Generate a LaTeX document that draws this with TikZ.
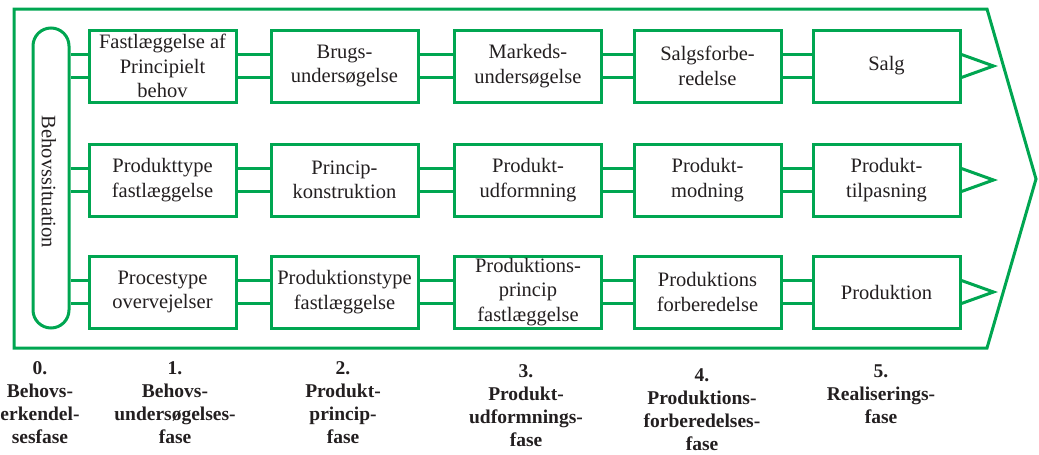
\documentclass[tikz,border=0pt]{standalone}
\usepackage{fontspec}
\setmainfont{Liberation Serif}
\usetikzlibrary{calc}
\definecolor{phasegreen}{RGB}{0,166,81}
\definecolor{ink}{RGB}{35,31,32}
\begin{document}
\begin{tikzpicture}[x=1pt,y=-1pt,
  every node/.style={text=ink},
  stepbox/.style={draw=phasegreen, line width=3pt, minimum width=147pt,
    minimum height=72pt, inner sep=0pt, align=center,
    font=\fontsize{20.5}{24.5}\selectfont},
  link/.style={draw=phasegreen, line width=3pt},
  phase/.style={anchor=north, align=center, inner sep=0pt,
    font=\fontsize{19.5}{23}\selectfont\bfseries}]
\useasboundingbox (0,0) rectangle (1039,455);

% outer arrow frame
\draw[phasegreen, line width=3pt, line join=miter]
  (14,9) -- (987,9) -- (1036,179) -- (987,348) -- (14,348) -- cycle;

% need situation column
\node[draw=phasegreen, line width=3pt, rounded corners=18pt,
  minimum width=36pt, minimum height=300pt, inner sep=0pt] (pill) at (51,178) {};
\node[rotate=-90, inner sep=0pt, font=\fontsize{20.5}{24.5}\selectfont]
  (pilltext) at (49,182) {Behovssituation};

% row 1
\node[stepbox] (r1-1) at (162.5,66) {Fastlæggelse af\\Principielt\\behov};
\node[stepbox] (r1-2) at (344.5,66) {Brugs-\\undersøgelse};
\node[stepbox] (r1-3) at (528,66) {Markeds-\\undersøgelse};
\node[stepbox] (r1-4) at (707.5,66) {Salgsforbe-\\redelse};
\node[stepbox] (r1-5) at (886.5,66) {Salg};
% row 2
\node[stepbox] (r2-1) at (162.5,180) {Produkttype\\fastlæggelse};
\node[stepbox] (r2-2) at (344.5,180) {Princip-\\konstruktion};
\node[stepbox] (r2-3) at (528,180) {Produkt-\\udformning};
\node[stepbox] (r2-4) at (707.5,180) {Produkt-\\modning};
\node[stepbox] (r2-5) at (886.5,180) {Produkt-\\tilpasning};
% row 3
\node[stepbox] (r3-1) at (162.5,292) {Procestype\\overvejelser};
\node[stepbox] (r3-2) at (344.5,292) {Produktionstype\\fastlæggelse};
\node[stepbox] (r3-3) at (528,292) {Produktions-\\princip\\fastlæggelse};
\node[stepbox] (r3-4) at (707.5,292) {Produktions\\forberedelse};
\node[stepbox] (r3-5) at (886.5,292) {Produktion};

% double links
\foreach \r in {1,2,3}{
  \coordinate (p\r) at (pill.east |- r\r-1.west);
  \draw[link] ([yshift=11.5pt]p\r) -- ([yshift=11.5pt]r\r-1.west);
  \draw[link] ([yshift=-11.5pt]p\r) -- ([yshift=-11.5pt]r\r-1.west);
  \foreach \c/\n in {1/2,2/3,3/4,4/5}{
    \draw[link] ([yshift=11.5pt]r\r-\c.east) -- ([yshift=11.5pt]r\r-\n.west);
    \draw[link] ([yshift=-11.5pt]r\r-\c.east) -- ([yshift=-11.5pt]r\r-\n.west);
  }
  % open arrow heads after the last step
  \coordinate (tip\r) at ([xshift=32pt]r\r-5.east);
  \draw[link, line join=miter] ([yshift=11.5pt]r\r-5.east) -- (tip\r)
    -- ([yshift=-11.5pt]r\r-5.east);
}

% phase captions
\node[phase] (ph0) at (40,361) {0.\\Behovs-\\erkendel-\\sesfase};
\node[phase] (ph1) at (175,361) {1.\\Behovs-\\undersøgelses-\\fase};
\node[phase] (ph2) at (343,361) {2.\\Produkt-\\princip-\\fase};
\node[phase] (ph3) at (526,364) {3.\\Produkt-\\udformnings-\\fase};
\node[phase] (ph4) at (702,368) {4.\\Produktions-\\forberedelses-\\fase};
\node[phase] (ph5) at (881,365) {5.\\Realiserings-\\fase};
\end{tikzpicture}
\end{document}
